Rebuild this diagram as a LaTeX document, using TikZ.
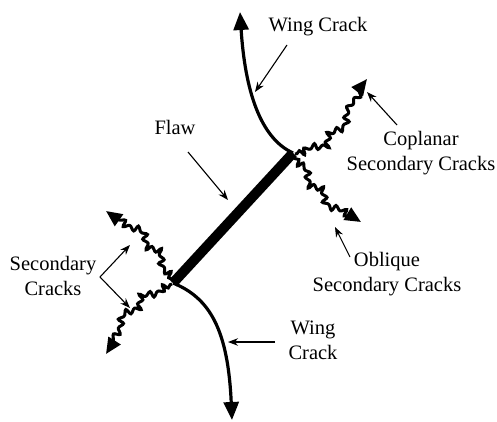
\documentclass[tikz,border=0pt]{standalone}
\usepackage{fontspec}
\setmainfont{Liberation Serif}
\usetikzlibrary{arrows.meta,decorations.pathmorphing}
\begin{document}
\begin{tikzpicture}[x=1pt,y=-1pt,
  crack/.style={line width=3.2pt,-{Triangle[length=18pt,width=15pt]}},
  wavy/.style={line width=3pt,-{Triangle[length=16pt,width=14pt]}},
  fine/.style={decoration={snake,segment length=9pt,amplitude=2.5pt,pre length=2pt,post length=12pt}},
  coarse/.style={decoration={snake,segment length=28pt,amplitude=4pt,pre length=6pt,post length=14pt}},
  pointer/.style={line width=1.1pt,-{Stealth[length=10pt,width=7.5pt]}},
  lbl/.style={font=\fontsize{20.5}{25}\selectfont,align=center,inner sep=0pt}]
\useasboundingbox (0,0) rectangle (497,422);
% flaw ends
\coordinate (A) at (293,153);
\coordinate (B) at (173,283);
\draw[line width=10pt] (B) -- (A);
% wing cracks
\coordinate (wtTip) at (240,12);
\coordinate (wbTip) at (232,420);
\draw[crack] (A) .. controls (260,138) and (245,90) .. (wtTip);
\draw[crack] (B) .. controls (210,298) and (228,330) .. (wbTip);
% secondary cracks
\coordinate (cS) at (295,154);
\coordinate (oS) at (294,157);
\coordinate (ulS) at (173,281);
\coordinate (llS) at (172,284);
\coordinate (cTip) at (367,79);
\coordinate (oTip) at (361,222);
\coordinate (ulTip) at (106,211);
\coordinate (llTip) at (106,354);
\draw[wavy] decorate[fine]{decorate[coarse]{(cS) .. controls (322,152) and (340,112) .. (cTip)}};
\draw[wavy] decorate[fine]{decorate[coarse]{(oS) .. controls (310,180) and (330,205) .. (oTip)}};
\draw[wavy] decorate[fine]{decorate[coarse]{(ulS) .. controls (165,262) and (135,230) .. (ulTip)}};
\draw[wavy] decorate[fine]{decorate[coarse]{(llS) .. controls (155,288) and (130,315) .. (llTip)}};
% labels
\node[lbl] (wt) at (318,27) {Wing Crack};
\node[lbl] (fl) at (175,127) {Flaw};
\node[lbl] (cop) at (421,153) {Coplanar\\Secondary Cracks};
\node[lbl] (obl) at (387,274) {Oblique\\Secondary Cracks};
\node[lbl] (sec) at (53,276) {Secondary\\Cracks};
\node[lbl] (wb) at (313,340) {Wing\\Crack};
% pointers
\coordinate (p1s) at (287,45);  \coordinate (p1e) at (255,92);
\coordinate (p2s) at (188,152); \coordinate (p2e) at (228,200);
\coordinate (p3s) at (397,125); \coordinate (p3e) at (367,92);
\coordinate (p4s) at (350,257); \coordinate (p4e) at (335,227);
\coordinate (p5s) at (100,277); \coordinate (p5a) at (130,245); \coordinate (p5b) at (130,308);
\coordinate (p6s) at (275,342); \coordinate (p6e) at (228,342);
\draw[pointer] (p1s) -- (p1e);
\draw[pointer] (p2s) -- (p2e);
\draw[pointer] (p3s) -- (p3e);
\draw[pointer] (p4s) -- (p4e);
\draw[pointer] (p5s) -- (p5a);
\draw[pointer] (p5s) -- (p5b);
\draw[pointer] (p6s) -- (p6e);
\end{tikzpicture}
\end{document}
